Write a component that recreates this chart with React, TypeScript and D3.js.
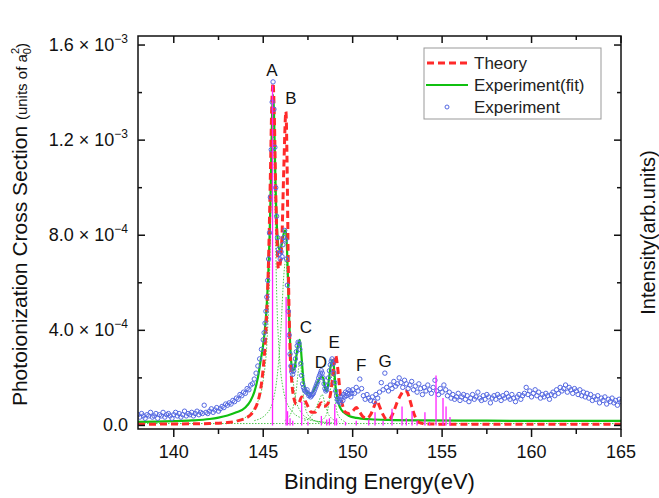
import React, { useRef, useEffect } from 'react'
import * as d3 from 'd3'

// values in units of 1e-4 a0^2, energies in eV

// Theory (red dashed)
const theory: [number, number][] = [
  [138, 0.05], [140, 0.06], [142, 0.08], [143, 0.12], [143.5, 0.18], [144, 0.3], [144.3, 0.45],
  [144.5, 0.65], [144.7, 1.0], [144.85, 1.5], [145.0, 2.4], [145.1, 3.3], [145.2, 4.8], [145.3, 7.0],
  [145.4, 10.5], [145.48, 13.5], [145.55, 14.4], [145.62, 13.0], [145.7, 9.8], [145.78, 7.6],
  [145.85, 6.6], [145.95, 6.8], [146.05, 8.0], [146.15, 10.8], [146.27, 13.2], [146.33, 11.2],
  [146.4, 6.8], [146.5, 3.2], [146.6, 1.8], [146.7, 1.2], [146.85, 0.9], [147.0, 0.95], [147.15, 1.2],
  [147.3, 1.1], [147.5, 0.8], [147.7, 0.55], [147.9, 0.55], [148.1, 0.8], [148.25, 0.95], [148.4, 0.8],
  [148.6, 0.9], [148.8, 1.5], [148.95, 2.5], [149.05, 2.95], [149.15, 2.5], [149.3, 1.4], [149.45, 0.8],
  [149.6, 0.55], [149.8, 0.5], [150.0, 0.6], [150.2, 0.75], [150.4, 0.55], [150.6, 0.35], [150.8, 0.3],
  [151.0, 0.45], [151.2, 0.8], [151.35, 1.05], [151.5, 0.8], [151.7, 0.45], [151.9, 0.25], [152.1, 0.3],
  [152.3, 0.6], [152.5, 1.0], [152.7, 1.3], [152.85, 1.45], [153.0, 1.45], [153.15, 1.2], [153.3, 0.8],
  [153.45, 0.45], [153.6, 0.2], [153.8, 0.1], [154.2, 0.06], [156, 0.05], [165, 0.05]
]

// Experiment (fit), green solid
const fit: [number, number][] = [
  [138, 0.15], [139, 0.16], [140, 0.18], [141, 0.21], [142, 0.27], [142.5, 0.33], [143, 0.42],
  [143.5, 0.55], [144, 0.75], [144.3, 1.05], [144.5, 1.4], [144.7, 2.0], [144.85, 2.7], [145.0, 3.4],
  [145.1, 4.1], [145.2, 5.1], [145.3, 6.7], [145.4, 9.3], [145.45, 11.3], [145.5, 13.2], [145.55, 13.9],
  [145.6, 13.2], [145.65, 11.5], [145.7, 9.8], [145.8, 7.9], [145.9, 7.4], [146.0, 7.5], [146.1, 7.9],
  [146.2, 8.2], [146.27, 8.2], [146.35, 7.0], [146.45, 4.5], [146.55, 2.8], [146.65, 2.3], [146.75, 2.4],
  [146.85, 2.9], [146.95, 3.4], [147.05, 3.6], [147.15, 2.8], [147.25, 1.9], [147.35, 1.55], [147.5, 1.35],
  [147.7, 1.35], [147.9, 1.6], [148.1, 1.9], [148.25, 2.05], [148.35, 2.0], [148.45, 1.6], [148.55, 1.45],
  [148.65, 1.8], [148.75, 2.4], [148.85, 2.75], [148.9, 2.75], [148.97, 2.3], [149.05, 1.6], [149.15, 1.1],
  [149.3, 0.75], [149.5, 0.55], [149.8, 0.4], [150.2, 0.32], [151, 0.26], [152, 0.23], [154, 0.21],
  [157, 0.2], [161, 0.19], [165, 0.19]
]

// fitted components (thin dotted green)
const compA: [number, number][] = [
  [143.5, 0.2], [144.2, 0.45], [144.7, 1.0], [145.0, 1.9], [145.2, 3.4], [145.35, 6.2], [145.45, 10.0],
  [145.55, 12.6], [145.65, 9.5], [145.75, 5.6], [145.9, 3.0], [146.1, 1.6], [146.5, 0.7], [147.2, 0.3], [149, 0.1]
]
const compB: [number, number][] = [
  [144.5, 0.2], [145.2, 0.5], [145.6, 1.2], [145.85, 2.6], [146.0, 4.2], [146.15, 6.3], [146.27, 7.0],
  [146.4, 5.4], [146.55, 3.0], [146.75, 1.4], [147.0, 0.7], [147.5, 0.3], [148.5, 0.12]
]
const compC: [number, number][] = [
  [146.2, 0.2], [146.6, 0.6], [146.85, 1.5], [146.98, 2.4], [147.06, 2.7], [147.15, 2.1], [147.3, 0.9],
  [147.6, 0.35], [148.2, 0.12]
]
const compD: [number, number][] = [
  [147.3, 0.2], [147.8, 0.5], [148.1, 1.0], [148.3, 1.3], [148.45, 0.9], [148.7, 0.4], [149.2, 0.15]
]
const compE: [number, number][] = [
  [148.1, 0.15], [148.5, 0.4], [148.72, 1.2], [148.88, 2.3], [149.0, 1.2], [149.2, 0.4], [149.6, 0.15]
]
const compBase: [number, number][] = [[138, 0.08], [165, 0.08]]

// Experiment points (blue circles)
const expLeftStart = 138.0
const expLeftStep = 0.1
const expLeft = [
  0.45, 0.35, 0.5, 0.4, 0.3, 0.45, 0.4, 0.55, 0.35, 0.4,
  0.5, 0.3, 0.45, 0.4, 0.55, 0.35, 0.45, 0.5, 0.4, 0.3,
  0.45, 0.55, 0.4, 0.5, 0.35, 0.45, 0.6, 0.4, 0.5, 0.45,
  0.55, 0.4, 0.5, 0.6, 0.45, 0.55, 0.5, 0.85, 0.55, 0.5,
  0.6, 0.7, 0.55, 0.65, 0.75, 0.6, 0.7, 0.8, 0.75, 0.9,
  0.85, 0.95, 0.9, 1.05, 1.0, 1.15, 1.1, 1.3, 1.25, 1.4,
  1.35, 1.55, 1.5, 1.7, 1.75, 1.95, 2.2, 2.5, 2.8, 3.2
]
const expPeakStart = 145.0
const expPeakStep = 0.05
const expPeak = [
  3.6, 3.9, 4.3, 4.8, 5.4, 6.1, 7.0, 8.1, 9.6, 11.6,
  13.6, 14.45, 13.3, 11.7, 10.0, 8.8, 7.9, 7.4, 7.2, 7.0,
  7.3, 7.1, 7.6, 7.9, 8.2, 7.8, 7.0, 5.9, 4.8, 3.8,
  3.0, 2.5, 2.25, 2.15, 2.3, 2.5, 2.8, 3.1, 3.35, 3.5,
  3.45, 3.2, 2.6, 2.1, 1.75, 1.6, 1.5, 1.45, 1.4, 1.5,
  1.35, 1.25, 1.3, 1.2, 1.25, 1.3, 1.35, 1.45, 1.55, 1.65,
  1.75, 1.85, 2.0, 2.1, 2.2, 2.3, 2.2, 2.0, 1.75, 1.55,
  1.45, 1.5, 1.7, 2.0, 2.3, 2.55, 2.7, 2.8, 2.6, 2.2,
  1.8, 1.45, 1.25, 1.1, 1.0, 1.05, 0.95, 1.1, 1.2, 1.05,
  1.3, 1.2, 1.4, 1.25, 1.35, 1.5, 1.3, 1.45, 1.2, 1.35,
  1.5
]
const expTailStart = 150.1
const expTailStep = 0.1
const expTail = [
  1.35, 1.6, 1.45, 1.95, 1.55, 1.25, 1.1, 1.3, 1.15, 1.05,
  1.2, 1.0, 1.3, 1.15, 1.4, 1.8, 1.5, 2.2, 1.6, 1.45,
  1.7, 1.55, 1.85, 1.65, 1.75, 2.0, 1.8, 1.6, 1.9, 1.75,
  1.55, 1.7, 1.85, 1.5, 1.65, 1.4, 1.75, 1.55, 1.3, 1.6,
  1.45, 1.7, 1.5, 1.35, 1.6, 1.9, 1.45, 1.3, 1.55, 1.4,
  1.7, 1.5, 1.25, 1.4, 1.15, 1.3, 1.1, 1.2, 1.35, 1.05,
  1.2, 1.3, 1.1, 1.25, 1.0, 1.15, 1.3, 1.1, 1.2, 1.4,
  1.15, 1.05, 1.25, 1.1, 1.3, 1.2, 0.95, 1.15, 1.25, 1.1,
  1.3, 1.2, 1.05, 1.25, 1.15, 1.35, 1.2, 1.1, 1.3, 1.15,
  1.0, 1.2, 1.3, 1.1, 1.25, 1.35, 1.6, 1.3, 1.45, 1.2,
  1.35, 1.5, 1.25, 1.4, 1.15, 1.3, 1.2, 1.35, 1.25, 1.1,
  1.3, 1.4, 1.25, 1.5, 1.35, 1.6, 1.45, 1.55, 1.7, 1.4,
  1.6, 1.5, 1.35, 1.55, 1.45, 1.3, 1.5, 1.25, 1.4, 1.2,
  1.35, 1.15, 1.3, 1.05, 1.2, 1.1, 1.25, 0.95, 1.15, 1.05,
  1.2, 0.9, 1.1, 1.0, 1.15, 0.95, 1.05, 0.85, 1.1, 1.0
]

// stick spectrum (magenta)
const stickE = [145.52, 146.28, 146.36, 146.5, 146.65, 147.15, 147.5, 148.25, 148.55, 148.7, 149.0, 149.1,
  149.6, 150.2, 150.9, 151.25, 151.7, 152.2, 152.76, 153.0, 153.32, 153.6, 154.04, 154.3, 154.66,
  155.05, 155.22, 155.44]
const stickV = [14.3, 5.4, 0.6, 0.3, 0.2, 1.0, 0.15, 0.4, 0.25, 0.3, 0.9, 0.3,
  0.15, 0.2, 0.25, 0.55, 0.2, 0.7, 0.8, 0.3, 0.6, 0.2, 0.55, 0.15, 2.1,
  1.15, 0.8, 0.35]

// peak labels
const peakNames = ['A', 'B', 'C', 'D', 'E', 'F', 'G']
const peakE = [145.49, 146.55, 147.39, 148.23, 148.96, 150.47, 151.81]
const peakV = [14.7, 13.5, 3.9, 2.4, 3.25, 2.3, 2.45]

// axis ticks
const xTicks = [140, 145, 150, 155, 160, 165]
const xMinor = [142.5, 147.5, 152.5, 157.5, 162.5]
const yTicks = [0, 4, 8, 12, 16]
const yMinor = [2, 6, 10, 14]
const yMant = ['0.0', '4.0', '8.0', '1.2', '1.6']
const yExp = ['', '\u22124', '\u22124', '\u22123', '\u22123']

const legendNames = ['Theory', 'Experiment(fit)', 'Experiment']

const App = () => {
  const svgRef = useRef<SVGSVGElement>(null)

  const width = 659
  const height = 498
  const margin = { top: 36, right: 38, bottom: 69, left: 138 }
  const font = '"Liberation Sans", Arial, sans-serif'

  useEffect(() => {
    const svg = d3.select(svgRef.current)
    svg.selectAll('*').remove()

    const x = d3.scaleLinear().domain([138, 165]).range([margin.left, width - margin.right])
    const y = d3.scaleLinear().domain([-0.15, 16.38]).range([height - margin.bottom, margin.top])
    const x0 = margin.left, x1 = width - margin.right
    const y0 = height - margin.bottom, y1 = margin.top

    svg.append('defs').append('clipPath').attr('id', 'plotclip')
      .append('rect').attr('x', x0).attr('y', y1).attr('width', x1 - x0).attr('height', y0 - y1)

    const plot = svg.append('g').attr('clip-path', 'url(#plotclip)')
    const ln = d3.line<[number, number]>().x(d => x(d[0])).y(d => y(d[1])).curve(d3.curveMonotoneX)

    // components
    ;[compA, compB, compC, compD, compE, compBase].forEach(c => {
      plot.append('path').datum(c)
        .attr('fill', 'none').attr('stroke', '#39c039').attr('stroke-width', 0.9)
        .attr('stroke-dasharray', '1.5,1.5').attr('d', ln)
    })

    // fit
    plot.append('path').datum(fit)
      .attr('fill', 'none').attr('stroke', '#10c010').attr('stroke-width', 2.2).attr('d', ln)

    // theory
    plot.append('path').datum(theory)
      .attr('fill', 'none').attr('stroke', '#ff2a2a').attr('stroke-width', 3)
      .attr('stroke-dasharray', '7,4').attr('d', ln)

    // experiment points
    const pts: [number, number][] = [
      ...expLeft.map((v, i) => [expLeftStart + i * expLeftStep, v] as [number, number]),
      ...expPeak.map((v, i) => [expPeakStart + i * expPeakStep, v] as [number, number]),
      ...expTail.map((v, i) => [expTailStart + i * expTailStep, v] as [number, number])
    ]
    plot.append('g').selectAll('circle').data(pts).join('circle')
      .attr('cx', d => x(d[0])).attr('cy', d => y(d[1])).attr('r', 2.2)
      .attr('fill', 'none').attr('stroke', '#5468e2').attr('stroke-width', 1)

    // sticks
    plot.append('g').selectAll('line').data(stickE).join('line')
      .attr('x1', d => x(d)).attr('x2', d => x(d))
      .attr('y1', y(0)).attr('y2', (d, i) => y(stickV[i]))
      .attr('stroke', '#ff22ff').attr('stroke-width', 1.3)

    // peak labels
    svg.append('g').selectAll('text').data(peakNames).join('text')
      .attr('x', (d, i) => x(peakE[i])).attr('y', (d, i) => y(peakV[i]))
      .attr('text-anchor', 'middle').attr('font-family', font).attr('font-size', 17)
      .attr('fill', '#111').text(d => d)

    // frame
    const axis = svg.append('g').attr('stroke', '#111').attr('stroke-width', 1.5)
    axis.append('rect').attr('x', x0).attr('y', y1).attr('width', x1 - x0).attr('height', y0 - y1)
      .attr('fill', 'none')
    xTicks.forEach(t => {
      axis.append('line').attr('x1', x(t)).attr('x2', x(t)).attr('y1', y0).attr('y2', y0 + 8)
      axis.append('line').attr('x1', x(t)).attr('x2', x(t)).attr('y1', y1).attr('y2', y1 + 7)
    })
    xMinor.forEach(t => {
      axis.append('line').attr('x1', x(t)).attr('x2', x(t)).attr('y1', y0).attr('y2', y0 + 5)
      axis.append('line').attr('x1', x(t)).attr('x2', x(t)).attr('y1', y1).attr('y2', y1 + 4)
    })
    yTicks.forEach(t => {
      axis.append('line').attr('x1', x0).attr('x2', x0 + 7).attr('y1', y(t)).attr('y2', y(t))
      axis.append('line').attr('x1', x1).attr('x2', x1 - 7).attr('y1', y(t)).attr('y2', y(t))
    })
    yMinor.forEach(t => {
      axis.append('line').attr('x1', x0).attr('x2', x0 + 4).attr('y1', y(t)).attr('y2', y(t))
      axis.append('line').attr('x1', x1).attr('x2', x1 - 4).attr('y1', y(t)).attr('y2', y(t))
    })

    // tick labels
    svg.append('g').selectAll('text').data(xTicks).join('text')
      .attr('x', d => x(d)).attr('y', y0 + 29).attr('text-anchor', 'middle')
      .attr('font-family', font).attr('font-size', 18).attr('fill', '#111').text(d => d)

    yTicks.forEach((t, i) => {
      const tx = svg.append('text').attr('x', x0 - 10).attr('y', y(t) + 6).attr('text-anchor', 'end')
        .attr('font-family', font).attr('font-size', 18).attr('fill', '#111')
      tx.append('tspan').text(yMant[i])
      if (yExp[i]) {
        tx.append('tspan').text(' \u00d7 10')
        tx.append('tspan').attr('font-size', 12).attr('dy', -8).text(yExp[i])
      }
    })

    // axis titles
    svg.append('text').attr('x', (x0 + x1) / 2).attr('y', 489).attr('text-anchor', 'middle')
      .attr('font-family', font).attr('font-size', 22).attr('fill', '#111')
      .text('Binding Energy(eV)')

    const yl = svg.append('text').attr('transform', `translate(27,${(y0 + y1) / 2 - 8}) rotate(-90)`)
      .attr('text-anchor', 'middle').attr('font-family', font).attr('font-size', 21).attr('fill', '#111')
    yl.append('tspan').text('Photoionization Cross Section ')
    yl.append('tspan').attr('font-size', 15).text('(units of a')
    yl.append('tspan').attr('font-size', 11).attr('dy', 4).text('0')
    yl.append('tspan').attr('font-size', 11).attr('dx', -6).attr('dy', -12).text('2')
    yl.append('tspan').attr('font-size', 15).attr('dy', 8).text(')')

    svg.append('text').attr('transform', `translate(655,${(y0 + y1) / 2}) rotate(-90)`)
      .attr('text-anchor', 'middle').attr('font-family', font).attr('font-size', 20).attr('fill', '#111')
      .text('Intensity(arb.units)')

    // legend
    const lg = svg.append('g')
    lg.append('rect').attr('x', 424).attr('y', 48).attr('width', 177).attr('height', 71)
      .attr('fill', '#fff').attr('stroke', '#999').attr('stroke-width', 1)
    const rowY = [63, 85, 107]
    lg.append('line').attr('x1', 427).attr('x2', 468).attr('y1', rowY[0]).attr('y2', rowY[0])
      .attr('stroke', '#ff2a2a').attr('stroke-width', 3).attr('stroke-dasharray', '7,4')
    lg.append('line').attr('x1', 426).attr('x2', 468).attr('y1', rowY[1]).attr('y2', rowY[1])
      .attr('stroke', '#10c010').attr('stroke-width', 2)
    lg.append('circle').attr('cx', 447).attr('cy', rowY[2]).attr('r', 2)
      .attr('fill', 'none').attr('stroke', '#5468e2').attr('stroke-width', 1)
    legendNames.forEach((n, i) => {
      lg.append('text').attr('x', 474).attr('y', rowY[i] + 6).attr('font-family', font)
        .attr('font-size', 17).attr('fill', '#222').text(n)
    })
  }, [])

  return (
    <div style={{ position: 'absolute', left: 0, top: 0 }}>
      <svg ref={svgRef} width={width} height={height} style={{ display: 'block', background: '#fff' }}></svg>
    </div>
  )
}

export default App
